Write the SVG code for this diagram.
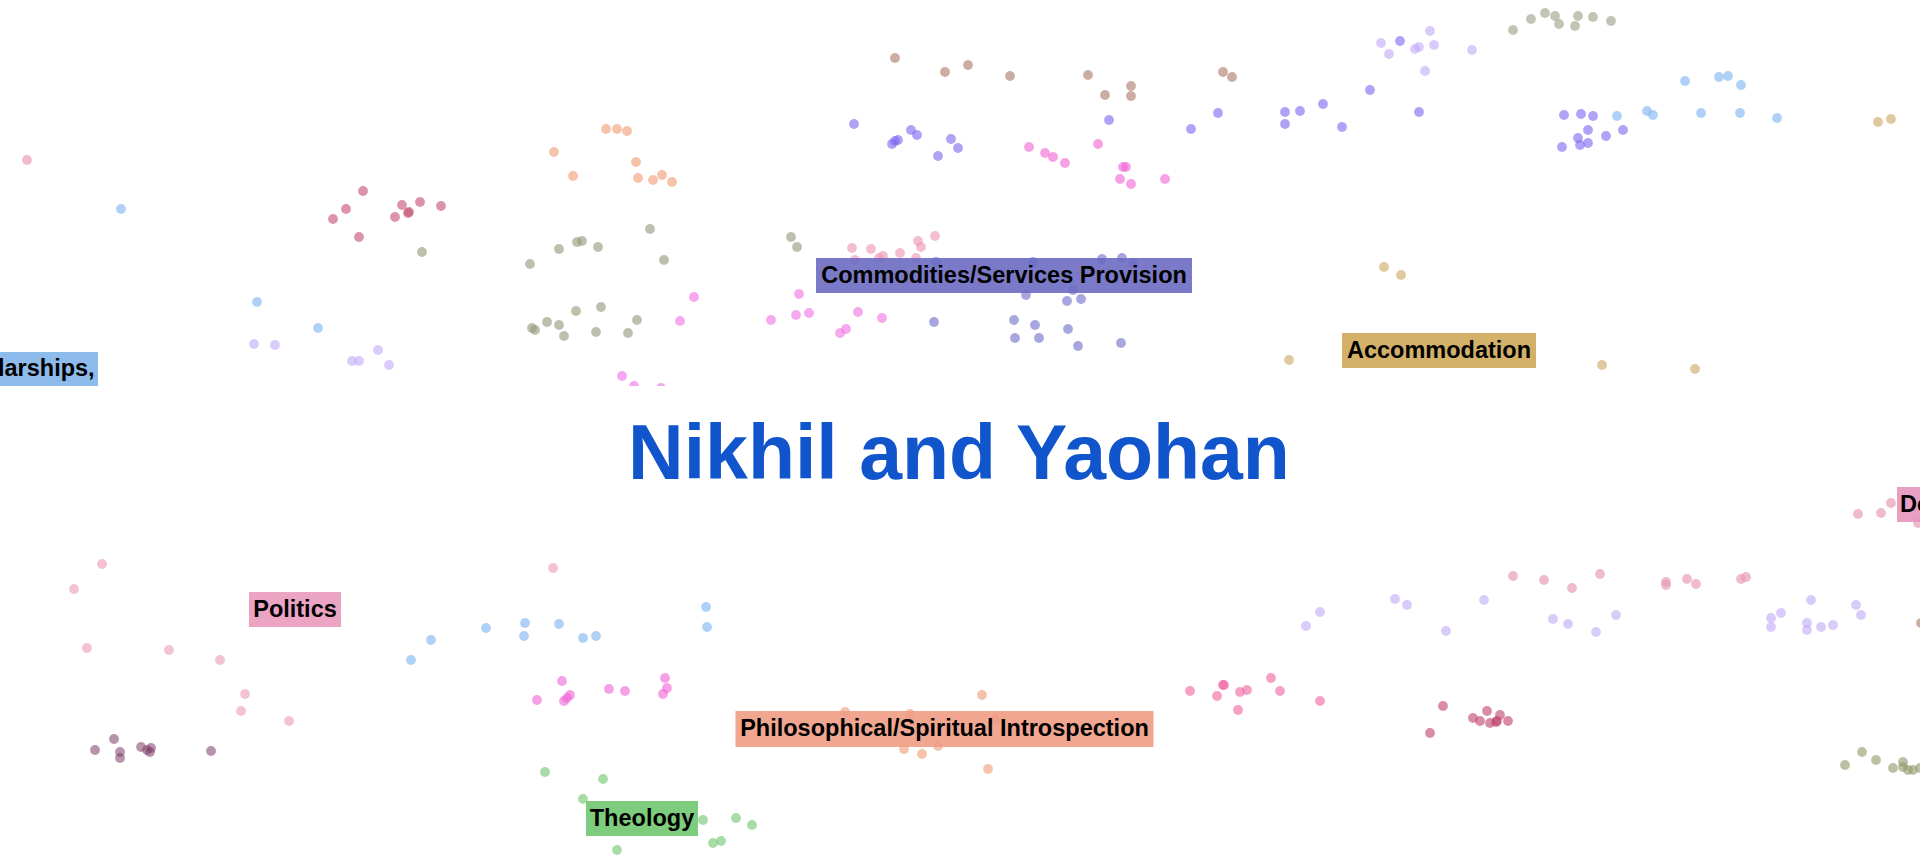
<svg xmlns="http://www.w3.org/2000/svg" width="1920" height="855" viewBox="0 0 1920 855">
<defs>
<style>
circle{stroke:none;r:4.9px}
.pk{fill:#e79cb6;fill-opacity:.7}
.lb{fill:#84b9ef;fill-opacity:.65}
.cr{fill:#c44c72;fill-opacity:.6}
.ol{fill:#8f9876;fill-opacity:.6}
.sa{fill:#f0996f;fill-opacity:.6}
.lv{fill:#bfa8f6;fill-opacity:.6}
.mg{fill:#f070e2;fill-opacity:.6}
.br{fill:#aa7666;fill-opacity:.6}
.bv{fill:#7c64f0;fill-opacity:.6}
.mp{fill:#f060d6;fill-opacity:.6}
.lp{fill:#ee92ae;fill-opacity:.6}
.sb{fill:#5e5ec4;fill-opacity:.55}
.og{fill:#a0a68a;fill-opacity:.65}
.tn{fill:#cfab6c;fill-opacity:.65}
.pl{fill:#eea2bf;fill-opacity:.65}
.dp{fill:#7c3c68;fill-opacity:.55}
.gr{fill:#6cc46c;fill-opacity:.6}
.hp{fill:#f0609e;fill-opacity:.6}
.cr2{fill:#c0406a;fill-opacity:.6}
.ol3{fill:#8d9868;fill-opacity:.6}
.lbl{font-family:"Liberation Sans",Arial,sans-serif;font-weight:bold;font-size:23.5px;fill:#000}
.box{fill-opacity:.9}
</style>
<clipPath id="topclip"><rect x="0" y="0" width="1920" height="386"/></clipPath>
</defs>
<rect x="0" y="0" width="1920" height="855" fill="#fff"/>

<g id="top-half" clip-path="url(#topclip)">
<g id="points-top">
<circle class="pk" cx="27" cy="160" r="4.9"/>
<g class="lb"><circle cx="121" cy="209" r="4.9"/><circle cx="257" cy="302" r="4.9"/><circle cx="318" cy="328" r="4.9"/></g>
<g class="cr"><circle cx="363" cy="191" r="4.9"/><circle cx="346" cy="209" r="4.9"/><circle cx="333" cy="219" r="4.9"/><circle cx="359" cy="237" r="4.9"/><circle cx="402" cy="205" r="4.9"/><circle cx="395" cy="217" r="4.9"/><circle cx="408" cy="213" r="4.9"/><circle cx="409" cy="212" r="4.9"/><circle cx="420" cy="202" r="4.9"/><circle cx="441" cy="206" r="4.9"/></g>
<g class="ol"><circle cx="422" cy="252" r="4.9"/><circle cx="530" cy="264" r="4.9"/><circle cx="559" cy="249" r="4.9"/><circle cx="577" cy="242" r="4.9"/><circle cx="582" cy="241" r="4.9"/><circle cx="598" cy="247" r="4.9"/><circle cx="650" cy="229" r="4.9"/><circle cx="664" cy="260" r="4.9"/><circle cx="791" cy="237" r="4.9"/><circle cx="797" cy="247" r="4.9"/>
<circle cx="532" cy="328" r="4.9"/><circle cx="535" cy="330" r="4.9"/><circle cx="547" cy="322" r="4.9"/><circle cx="559" cy="325" r="4.9"/><circle cx="564" cy="336" r="4.9"/><circle cx="576" cy="311" r="4.9"/><circle cx="601" cy="307" r="4.9"/><circle cx="596" cy="332" r="4.9"/><circle cx="628" cy="333" r="4.9"/><circle cx="637" cy="320" r="4.9"/></g>
<g class="sa"><circle cx="606" cy="129" r="4.9"/><circle cx="617" cy="129" r="4.9"/><circle cx="627" cy="131" r="4.9"/><circle cx="554" cy="152" r="4.9"/><circle cx="573" cy="176" r="4.9"/><circle cx="636" cy="162" r="4.9"/><circle cx="638" cy="178" r="4.9"/><circle cx="653" cy="180" r="4.9"/><circle cx="662" cy="175" r="4.9"/><circle cx="672" cy="182" r="4.9"/></g>
<g class="lv"><circle cx="254" cy="344" r="4.9"/><circle cx="275" cy="345" r="4.9"/><circle cx="378" cy="350" r="4.9"/><circle cx="352" cy="361" r="4.9"/><circle cx="359" cy="361" r="4.9"/><circle cx="389" cy="365" r="4.9"/>
<circle cx="1381" cy="43" r="4.9"/><circle cx="1389" cy="54" r="4.9"/><circle cx="1415" cy="49" r="4.9"/><circle cx="1419" cy="47" r="4.9"/><circle cx="1430" cy="31" r="4.9"/><circle cx="1434" cy="45" r="4.9"/><circle cx="1472" cy="50" r="4.9"/><circle cx="1425" cy="71" r="4.9"/></g>
<g class="mg"><circle cx="622" cy="376" r="4.9"/><circle cx="634" cy="386" r="4.9"/><circle cx="661" cy="388" r="4.9"/><circle cx="694" cy="297" r="4.9"/><circle cx="680" cy="321" r="4.9"/><circle cx="771" cy="320" r="4.9"/><circle cx="796" cy="315" r="4.9"/><circle cx="809" cy="313" r="4.9"/><circle cx="799" cy="294" r="4.9"/><circle cx="858" cy="312" r="4.9"/><circle cx="882" cy="318" r="4.9"/><circle cx="840" cy="333" r="4.9"/><circle cx="846" cy="329" r="4.9"/></g>
<g class="br"><circle cx="895" cy="58" r="4.9"/><circle cx="945" cy="72" r="4.9"/><circle cx="968" cy="65" r="4.9"/><circle cx="1010" cy="76" r="4.9"/><circle cx="1088" cy="75" r="4.9"/><circle cx="1105" cy="95" r="4.9"/><circle cx="1131" cy="86" r="4.9"/><circle cx="1131" cy="96" r="4.9"/><circle cx="1223" cy="72" r="4.9"/><circle cx="1232" cy="77" r="4.9"/></g>
<g class="bv"><circle cx="854" cy="124" r="4.9"/><circle cx="892" cy="144" r="4.9"/><circle cx="895" cy="141" r="4.9"/><circle cx="898" cy="140" r="4.9"/><circle cx="911" cy="130" r="4.9"/><circle cx="917" cy="135" r="4.9"/><circle cx="951" cy="139" r="4.9"/><circle cx="958" cy="148" r="4.9"/><circle cx="938" cy="156" r="4.9"/><circle cx="1109" cy="120" r="4.9"/><circle cx="1191" cy="129" r="4.9"/><circle cx="1218" cy="113" r="4.9"/>
<circle cx="1370" cy="90" r="4.9"/><circle cx="1323" cy="104" r="4.9"/><circle cx="1300" cy="111" r="4.9"/><circle cx="1285" cy="112" r="4.9"/><circle cx="1285" cy="124" r="4.9"/><circle cx="1342" cy="127" r="4.9"/><circle cx="1419" cy="112" r="4.9"/><circle cx="1400" cy="41" r="4.9"/>
<circle cx="1564" cy="115" r="4.9"/><circle cx="1581" cy="114" r="4.9"/><circle cx="1593" cy="116" r="4.9"/><circle cx="1588" cy="130" r="4.9"/><circle cx="1578" cy="138" r="4.9"/><circle cx="1580" cy="145" r="4.9"/><circle cx="1588" cy="143" r="4.9"/><circle cx="1562" cy="147" r="4.9"/><circle cx="1606" cy="136" r="4.9"/><circle cx="1623" cy="130" r="4.9"/></g>
<g class="mp"><circle cx="1029" cy="147" r="4.9"/><circle cx="1045" cy="153" r="4.9"/><circle cx="1053" cy="157" r="4.9"/><circle cx="1065" cy="163" r="4.9"/><circle cx="1098" cy="144" r="4.9"/><circle cx="1123" cy="167" r="4.9"/><circle cx="1126" cy="167" r="4.9"/><circle cx="1120" cy="179" r="4.9"/><circle cx="1131" cy="184" r="4.9"/><circle cx="1165" cy="179" r="4.9"/></g>
<g class="lp"><circle cx="852" cy="248" r="4.9"/><circle cx="871" cy="249" r="4.9"/><circle cx="900" cy="253" r="4.9"/><circle cx="918" cy="241" r="4.9"/><circle cx="921" cy="247" r="4.9"/><circle cx="935" cy="236" r="4.9"/><circle cx="883" cy="256" r="4.9"/><circle cx="879" cy="258" r="4.9"/><circle cx="855" cy="260" r="4.9"/><circle cx="916" cy="258" r="4.9"/></g>
<g class="sb"><circle cx="936" cy="262" r="4.9"/><circle cx="1033" cy="262" r="4.9"/><circle cx="1102" cy="259" r="4.9"/><circle cx="1122" cy="258" r="4.9"/><circle cx="1133" cy="263" r="4.9"/><circle cx="1073" cy="290" r="4.9"/><circle cx="1026" cy="295" r="4.9"/><circle cx="1067" cy="301" r="4.9"/><circle cx="1081" cy="299" r="4.9"/><circle cx="1014" cy="320" r="4.9"/><circle cx="1035" cy="325" r="4.9"/><circle cx="1068" cy="329" r="4.9"/><circle cx="1015" cy="338" r="4.9"/><circle cx="1039" cy="338" r="4.9"/><circle cx="1078" cy="346" r="4.9"/><circle cx="1121" cy="343" r="4.9"/><circle cx="934" cy="322" r="4.9"/></g>
<g class="og"><circle cx="1513" cy="30" r="4.9"/><circle cx="1531" cy="19" r="4.9"/><circle cx="1545" cy="13" r="4.9"/><circle cx="1555" cy="16" r="4.9"/><circle cx="1559" cy="24" r="4.9"/><circle cx="1575" cy="26" r="4.9"/><circle cx="1578" cy="16" r="4.9"/><circle cx="1593" cy="17" r="4.9"/><circle cx="1611" cy="21" r="4.9"/></g>
<g class="lb"><circle cx="1617" cy="116" r="4.9"/><circle cx="1647" cy="111" r="4.9"/><circle cx="1653" cy="115" r="4.9"/><circle cx="1685" cy="81" r="4.9"/><circle cx="1719" cy="77" r="4.9"/><circle cx="1728" cy="76" r="4.9"/><circle cx="1741" cy="85" r="4.9"/><circle cx="1701" cy="113" r="4.9"/><circle cx="1740" cy="113" r="4.9"/><circle cx="1777" cy="118" r="4.9"/></g>
<g class="tn"><circle cx="1878" cy="122" r="4.9"/><circle cx="1891" cy="119" r="4.9"/><circle cx="1384" cy="267" r="4.9"/><circle cx="1401" cy="275" r="4.9"/><circle cx="1289" cy="360" r="4.9"/><circle cx="1602" cy="365" r="4.9"/><circle cx="1695" cy="369" r="4.9"/></g>
</g>
<g id="label-scholarships"><rect class="box" x="-4" y="352" width="102" height="36" fill="#7fb4ea"/><text class="lbl" x="-2" y="376">larships,</text></g>
<g id="label-commodities"><rect class="box" x="816" y="258" width="376" height="35" fill="#6b6bc2"/><text class="lbl" x="1004" y="283" text-anchor="middle">Commodities/Services Provision</text></g>
<g id="label-accommodation"><rect class="box" x="1342" y="333" width="194" height="35" fill="#cfa959"/><text class="lbl" x="1439" y="358" text-anchor="middle">Accommodation</text></g>
</g>

<g id="title"><text x="959" y="479" text-anchor="middle" font-family="'Liberation Sans',Arial,sans-serif" font-weight="bold" font-size="77" fill="#1155cc">Nikhil and Yaohan</text></g>

<g id="points-bottom">
<g class="pl"><circle cx="102" cy="564" r="4.9"/><circle cx="74" cy="589" r="4.9"/><circle cx="87" cy="648" r="4.9"/><circle cx="169" cy="650" r="4.9"/><circle cx="220" cy="660" r="4.9"/><circle cx="245" cy="694" r="4.9"/><circle cx="241" cy="711" r="4.9"/><circle cx="289" cy="721" r="4.9"/><circle cx="553" cy="568" r="4.9"/></g>
<g class="dp"><circle cx="114" cy="739" r="4.9"/><circle cx="95" cy="750" r="4.9"/><circle cx="120" cy="752" r="4.9"/><circle cx="120" cy="758" r="4.9"/><circle cx="141" cy="747" r="4.9"/><circle cx="147" cy="750" r="4.9"/><circle cx="151" cy="748" r="4.9"/><circle cx="150" cy="752" r="4.9"/><circle cx="211" cy="751" r="4.9"/></g>
<g class="lb"><circle cx="411" cy="660" r="4.9"/><circle cx="431" cy="640" r="4.9"/><circle cx="486" cy="628" r="4.9"/><circle cx="525" cy="623" r="4.9"/><circle cx="524" cy="636" r="4.9"/><circle cx="559" cy="624" r="4.9"/><circle cx="583" cy="638" r="4.9"/><circle cx="596" cy="636" r="4.9"/><circle cx="706" cy="607" r="4.9"/><circle cx="707" cy="627" r="4.9"/></g>
<g class="mp"><circle cx="562" cy="681" r="4.9"/><circle cx="537" cy="700" r="4.9"/><circle cx="564" cy="701" r="4.9"/><circle cx="567" cy="698" r="4.9"/><circle cx="570" cy="695" r="4.9"/><circle cx="609" cy="689" r="4.9"/><circle cx="625" cy="691" r="4.9"/><circle cx="665" cy="678" r="4.9"/><circle cx="667" cy="688" r="4.9"/><circle cx="663" cy="694" r="4.9"/></g>
<g class="gr"><circle cx="545" cy="772" r="4.9"/><circle cx="603" cy="779" r="4.9"/><circle cx="583" cy="799" r="4.9"/><circle cx="617" cy="850" r="4.9"/><circle cx="703" cy="820" r="4.9"/><circle cx="736" cy="818" r="4.9"/><circle cx="752" cy="825" r="4.9"/><circle cx="713" cy="843" r="4.9"/><circle cx="721" cy="841" r="4.9"/></g>
<g class="sa"><circle cx="982" cy="695" r="4.9"/><circle cx="845" cy="712" r="4.9"/><circle cx="910" cy="714" r="4.9"/><circle cx="995" cy="720" r="4.9"/><circle cx="904" cy="749" r="4.9"/><circle cx="922" cy="754" r="4.9"/><circle cx="938" cy="746" r="4.9"/><circle cx="988" cy="769" r="4.9"/></g>
<g class="hp"><circle cx="1190" cy="691" r="4.9"/><circle cx="1223" cy="685" r="4.9"/><circle cx="1224" cy="685" r="4.9"/><circle cx="1217" cy="696" r="4.9"/><circle cx="1240" cy="692" r="4.9"/><circle cx="1247" cy="690" r="4.9"/><circle cx="1238" cy="710" r="4.9"/><circle cx="1271" cy="678" r="4.9"/><circle cx="1280" cy="691" r="4.9"/><circle cx="1320" cy="701" r="4.9"/></g>
<g class="cr2"><circle cx="1443" cy="706" r="4.9"/><circle cx="1430" cy="733" r="4.9"/><circle cx="1473" cy="718" r="4.9"/><circle cx="1480" cy="721" r="4.9"/><circle cx="1487" cy="711" r="4.9"/><circle cx="1490" cy="723" r="4.9"/><circle cx="1496" cy="722" r="4.9"/><circle cx="1497" cy="721" r="4.9"/><circle cx="1500" cy="715" r="4.9"/><circle cx="1508" cy="721" r="4.9"/></g>
<g class="lv"><circle cx="1320" cy="612" r="4.9"/><circle cx="1306" cy="626" r="4.9"/><circle cx="1395" cy="599" r="4.9"/><circle cx="1407" cy="605" r="4.9"/><circle cx="1446" cy="631" r="4.9"/><circle cx="1484" cy="600" r="4.9"/><circle cx="1553" cy="619" r="4.9"/><circle cx="1568" cy="624" r="4.9"/><circle cx="1596" cy="632" r="4.9"/><circle cx="1616" cy="615" r="4.9"/><circle cx="1771" cy="618" r="4.9"/><circle cx="1771" cy="627" r="4.9"/><circle cx="1781" cy="613" r="4.9"/><circle cx="1811" cy="600" r="4.9"/><circle cx="1807" cy="623" r="4.9"/><circle cx="1807" cy="630" r="4.9"/><circle cx="1821" cy="627" r="4.9"/><circle cx="1833" cy="625" r="4.9"/><circle cx="1856" cy="605" r="4.9"/><circle cx="1861" cy="615" r="4.9"/></g>
<g class="pk"><circle cx="1513" cy="576" r="4.9"/><circle cx="1544" cy="580" r="4.9"/><circle cx="1572" cy="588" r="4.9"/><circle cx="1600" cy="574" r="4.9"/><circle cx="1666" cy="582" r="4.9"/><circle cx="1666" cy="585" r="4.9"/><circle cx="1687" cy="579" r="4.9"/><circle cx="1696" cy="584" r="4.9"/><circle cx="1741" cy="579" r="4.9"/><circle cx="1746" cy="577" r="4.9"/><circle cx="1858" cy="514" r="4.9"/><circle cx="1881" cy="513" r="4.9"/><circle cx="1891" cy="503" r="4.9"/><circle cx="1918" cy="523" r="4.9"/></g>
<g class="ol3"><circle cx="1845" cy="765" r="4.9"/><circle cx="1862" cy="752" r="4.9"/><circle cx="1876" cy="760" r="4.9"/><circle cx="1893" cy="768" r="4.9"/><circle cx="1903" cy="762" r="4.9"/><circle cx="1903" cy="767" r="4.9"/><circle cx="1908" cy="770" r="4.9"/><circle cx="1913" cy="770" r="4.9"/><circle cx="1920" cy="768" r="4.9"/></g>
<circle class="br" cx="1921" cy="623" r="4.9"/>
</g>

<g id="label-politics"><rect class="box" x="249" y="592" width="92" height="35" fill="#ea9abd"/><text class="lbl" x="295" y="617" text-anchor="middle">Politics</text></g>
<g id="label-philosophical"><rect class="box" x="735.5" y="711" width="418" height="36" fill="#ef9c84"/><text class="lbl" x="944.5" y="736" text-anchor="middle">Philosophical/Spiritual Introspection</text></g>
<g id="label-theology"><rect class="box" x="586" y="801" width="112" height="35" fill="#70c670"/><text class="lbl" x="642" y="826" text-anchor="middle">Theology</text></g>
<g id="label-de"><rect class="box" x="1897" y="487" width="30" height="35" fill="#e595bd"/><text class="lbl" x="1900" y="512">De</text></g>

<g id="connectors"/>
</svg>
